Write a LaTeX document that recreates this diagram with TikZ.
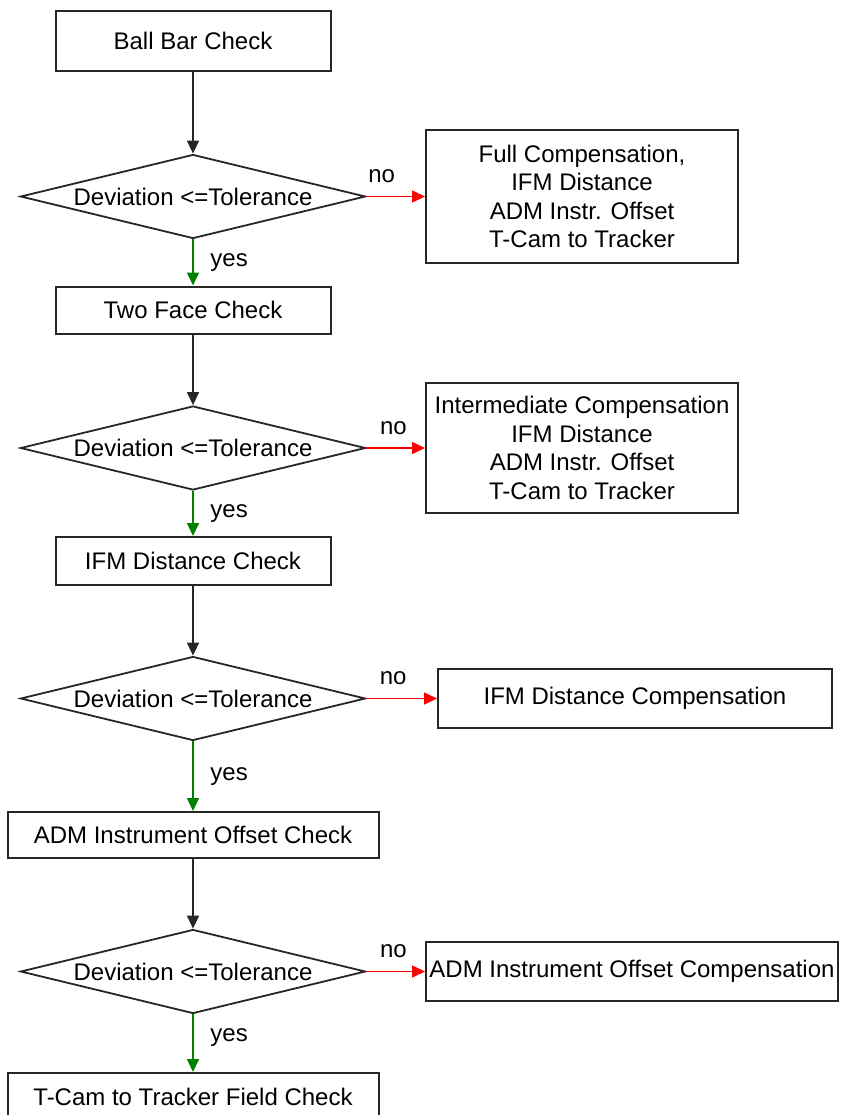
\documentclass[tikz,border=0pt]{standalone}
\usepackage{fontspec}
\setmainfont{Liberation Sans}
\usetikzlibrary{arrows.meta,shapes.geometric}
\definecolor{yescol}{RGB}{0,128,0}
\definecolor{nocol}{RGB}{255,0,0}
\newcommand{\flowfont}{\fontsize{12}{14.25}\selectfont}
\tikzstyle{arrow} = [line width=0.8pt,draw=black!85,-{Triangle[length=6.5pt,width=6pt]}]
\tikzstyle{yesarrow} = [arrow,draw=yescol]
\tikzstyle{noarrow} = [arrow,draw=nocol]
\tikzstyle{check} = [rectangle,draw=black!85,line width=1pt,align=center]
\tikzstyle{decision} = [diamond,draw=black!85,line width=0.9pt,aspect=4.1,inner sep=0pt,minimum width=172.5pt,minimum height=42pt]

\begin{document}
\begin{tikzpicture}[x=0.5pt,y=-0.5pt,font=\flowfont]
	\def \xl {193}
	\def \wl {137.5pt}
	\def \wm {185.5pt}
	\useasboundingbox (0,0) rectangle (841,1115);

	% checks and decisions
	\node (ballbar) at (\xl,41) [check,minimum width=\wl,minimum height=30pt] {Ball Bar Check};
	\node (dev1) at (\xl,196.5) [decision] {Deviation <=Tolerance};
	\node (twoface) at (\xl,310) [check,minimum width=\wl,minimum height=23.5pt] {Two Face Check};
	\node (dev2) at (\xl,448) [decision] {Deviation <=Tolerance};
	\node (ifmcheck) at (\xl,561) [check,minimum width=\wl,minimum height=24pt] {IFM Distance Check};
	\node (dev3) at (\xl,698.5) [decision] {Deviation <=Tolerance};
	\node (admcheck) at (\xl,835) [check,minimum width=\wm,minimum height=23pt] {ADM Instrument Offset Check};
	\node (dev4) at (\xl,971.5) [decision] {Deviation <=Tolerance};
	\node (tcamcheck) at (\xl,1096.5) [check,minimum width=\wm,minimum height=23.5pt] {T-Cam to Tracker Field Check};

	% compensations
	\node (fullcomp) at (582,196.5) [check,minimum width=156pt,minimum height=66.5pt] {Full Compensation,\\IFM Distance\\ADM Instr. Offset\\T-Cam to Tracker};
	\node (intercomp) at (582,448) [check,minimum width=156pt,minimum height=65pt] {Intermediate Compensation\\IFM Distance\\ADM Instr. Offset\\T-Cam to Tracker};
	\node (ifmcomp) at (635,698.5) [check,minimum width=197pt,minimum height=29.5pt] {IFM Distance Compensation};
	\node (admcomp) at (632,971.5) [check,inner xsep=1pt,minimum width=206pt,minimum height=29.5pt] {ADM Instrument Offset Compensation};

	\draw [arrow] (ballbar) -- (dev1);
	\draw [noarrow] (dev1) -- node[pos=0.26,above=3pt] {no} (fullcomp);
	\draw [yesarrow] (dev1) -- node[right=5pt] {yes} (twoface);
	\draw [arrow] (twoface) -- (dev2);
	\draw [noarrow] (dev2) -- node[pos=0.46,above=3pt] {no} (intercomp);
	\draw [yesarrow] (dev2) -- node[right=5pt] {yes} (ifmcheck);
	\draw [arrow] (ifmcheck) -- (dev3);
	\draw [noarrow] (dev3) -- node[pos=0.38,above=3pt] {no} (ifmcomp);
	\draw [yesarrow] (dev3) -- node[right=5pt] {yes} (admcheck);
	\draw [arrow] (admcheck) -- (dev4);
	\draw [noarrow] (dev4) -- node[pos=0.46,above=3pt] {no} (admcomp);
	\draw [yesarrow] (dev4) -- node[pos=0.41,right=5pt] {yes} (tcamcheck);
\end{tikzpicture}
\end{document}
